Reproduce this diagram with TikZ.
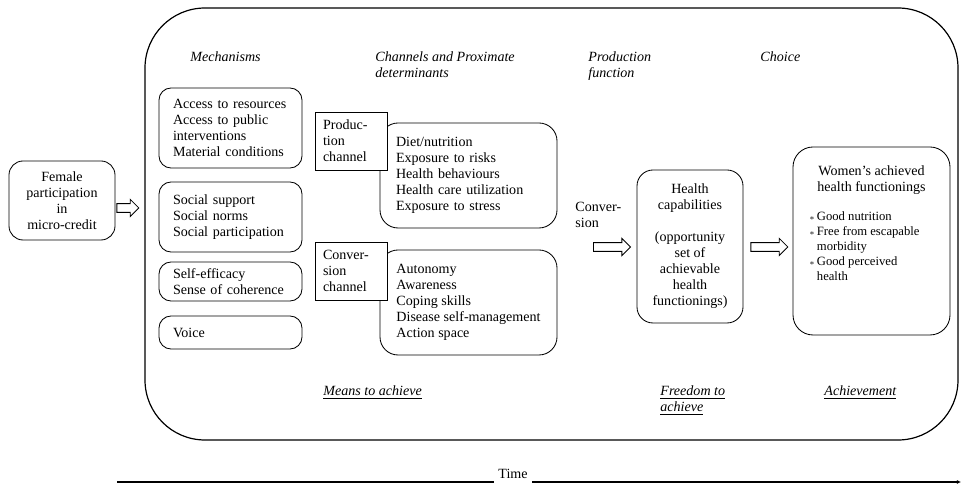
\documentclass[tikz,border=0pt]{standalone}
\usepackage{fontspec}
\setmainfont{Liberation Serif}
\usetikzlibrary{positioning,calc,shapes.arrows,arrows.meta}

\newcommand\pxu{0.025cm}
\newcommand\txt{\fontsize{10pt}{11.4pt}\selectfont}

\tikzset{
  rbox/.style={draw, rounded corners=0.3cm, inner sep=0pt, align=left},
  mechbox/.style={rbox, minimum width=143*\pxu, text width=115*\pxu, inner xsep=14*\pxu},
  listbox/.style={rbox, rounded corners=0.45cm, minimum width=177*\pxu, minimum height=105*\pxu},
  chanbox/.style={draw, fill=white, inner sep=0pt, align=left, minimum width=72*\pxu, minimum height=58*\pxu, text width=56*\pxu, inner xsep=8*\pxu},
  head/.style={font=\txt\itshape, inner sep=0pt, align=left, anchor=base west},
  hollow/.style={draw, single arrow, single arrow head extend=3pt, inner xsep=0pt, inner ysep=2.8pt, anchor=tail},
}

\begin{document}
\begin{tikzpicture}[x=\pxu, y=-\pxu, font=\txt, line width=0.6pt]
  \useasboundingbox (0,0) rectangle (962,484);

  % outer frame
  \node[draw, line width=0.85pt, rounded corners=1.5cm, minimum width=813*\pxu, minimum height=432*\pxu] (frame) at (551.5,224) {};

  \node[rbox, align=center, rounded corners=0.35cm, minimum width=106*\pxu, minimum height=79*\pxu] (fem) at (62,200.5) {Female\\participation\\in\\micro-credit};
  \node[hollow, minimum height=22*\pxu] (arr1) at ($(fem.east)+(1,7.5)$) {};

  % column headings (base = last line)
  \node[head] (hmech) at (190,62) {Mechanisms};
  \node[head] (hchan) at (375,78) {Channels and Proximate\\determinants};
  \node[head] (hprod) at (588,78) {Production\\function};
  \node[head] (hchoice) at (760,62) {Choice};

  % mechanisms
  \node[mechbox, minimum height=80*\pxu] (mech1) at (230.5,128) {Access to resources\\Access to public\\interventions\\Material conditions};
  \node[mechbox, minimum height=70*\pxu] (mech2) at (230.5,217) {Social support\\Social norms\\Social participation};
  \node[mechbox, minimum height=39*\pxu] (mech3) at (230.5,281.5) {Self-efficacy\\Sense of coherence};
  \node[mechbox, minimum height=33*\pxu] (mech4) at (230.5,332.5) {Voice};

  % channels
  \node[listbox, text width=145*\pxu, inner xsep=16*\pxu] (plist) at (468.5,175.5) {Diet/nutrition\\Exposure to risks\\Health behaviours\\Health care utilization\\Exposure to stress};
  \node[chanbox] (pchan) at (351,141) {Produc-\\tion\\channel};
  \node[listbox] (clist) at (468.5,302.5) {Autonomy\\Awareness\\Coping skills\\Disease self-management\\Action space};
  \node[chanbox] (cchan) at (351,271) {Conver-\\sion\\channel};

  % production function
  \node[head, font=\txt] (conv) at (575,228) {Conver-\\sion};
  \node[hollow, minimum height=37*\pxu] (arr2) at (593,247) {};
  \node[rbox, align=center, rounded corners=0.4cm, minimum width=106*\pxu, minimum height=153*\pxu] (cap) at (690,246.5)
    {Health\\capabilities\\[11.4pt](opportunity\\set of\\achievable\\health\\functionings)};
  \node[hollow, minimum height=37*\pxu] (arr3) at ($(cap.east)+(7,0.5)$) {};

  % choice
  \node[rbox, rounded corners=0.5cm, minimum width=157*\pxu, minimum height=188*\pxu] (wom) at (871.5,241) {};
  \node[inner sep=0pt, align=center, anchor=north] (womtitle) at ($(wom.north)+(0,19)$) {Women's achieved\\health functionings};
  \node[inner sep=0pt, align=left, anchor=north west, font=\fontsize{9pt}{10.7pt}\selectfont] (womlist) at (809,211)
    {$\scriptstyle\ast$\,Good nutrition\\
     $\scriptstyle\ast$\,Free from escapable\\
     \phantom{$\scriptstyle\ast$\,}morbidity\\
     $\scriptstyle\ast$\,Good perceived\\
     \phantom{$\scriptstyle\ast$\,}health};

  % bottom labels
  \node[head] (means) at (323,396) {\underline{Means to achieve}};
  \node[head] (freedom) at (660,412) {\underline{Freedom to}\\\underline{achieve}};
  \node[head] (achieve) at (824,396) {\underline{Achievement}};

  % time axis
  \node[inner sep=3pt] (time) at (513,474) {Time};
  \coordinate (tstart) at (117,482);
  \coordinate (tend) at (961,482);
  \draw[line width=1.4pt] (tstart) -- (tstart -| time.west);
  \draw[line width=1.4pt, -{Latex[length=3pt,width=3pt]}] (tstart -| time.east) -- (tend);
\end{tikzpicture}
\end{document}
